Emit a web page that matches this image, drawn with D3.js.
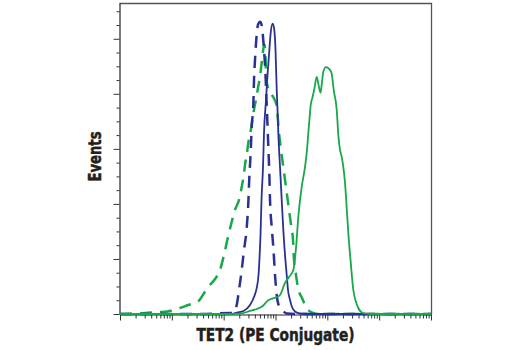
<!DOCTYPE html>
<html><head><meta charset="utf-8">
<script src="https://cdn.jsdelivr.net/npm/d3@7"></script>
<style>html,body{margin:0;padding:0;background:#fff;} svg{display:block}</style>
</head><body><svg id="c" width="520" height="350"></svg>
<script>
// [fluorescence intensity, events]
const blueDashed = [[1,0],[35,0],[132.6,1.8],[151.4,1.8],[178.5,16.4],[197.7,43.6],[222.9,80],[246.9,116.4],[278.3,156.4],[298.8,201.8],[312.3,247.3],[332.4,294.5],[347.5,340],[373.2,380],[385,425.5],[402.5,461.8],[434,507.3],[459.8,525.5],[502.8,530.9],[525.5,529.1],[561.6,512.7],[600.2,480],[641.7,434.5],[670.8,389],[695.1,352.7],[726.6,303.6],[759.7,256.3],[783.7,207.3],[845.3,158.2],[915.4,116.4],[978.6,70.9],[1055.4,34.5],[1168.5,14.5],[1395.7,5.5],[1668,0.9],[2971,0],[1e6,0]];
const blueSolid = [[1,0],[85,0],[106.1,0.9],[144.8,0],[180.9,2.7],[241.4,5.5],[322.3,16.4],[385,30.9],[434,47.3],[470.1,70.9],[491.5,101.8],[513.9,143.6],[537.2,207.3],[574.1,267.3],[600.2,329.1],[656,389],[701.3,434.5],[749.6,470.9],[801.3,507.3],[875.8,527.3],[936,520],[1000.5,480],[1055.4,407.3],[1093.7,370.9],[1133.2,329.1],[1221.8,267.3],[1317.9,207.3],[1414.9,152.7],[1525.8,107.3],[1645.8,70.9],[1743.6,43.6],[1905.5,25.5],[2082.5,12.7],[2379.6,4.5],[2971,0.9],[4634,0],[1e6,0]];
const greenDashed = [[1,0],[2.43,0.9],[3.79,2.7],[5.91,3.6],[8.07,4.5],[12.6,9.1],[20.5,16.4],[32,22.7],[49.9,49.1],[68.1,63.6],[85,80],[101.5,107.3],[121.3,140],[142.9,167.3],[165.5,189.1],[197.7,207.3],[222.9,230.9],[241.4,249.1],[258.1,270.9],[282,292.7],[298.8,310.9],[329.5,330.9],[363.4,356.3],[393.6,376.3],[420.7,389],[459.8,410.9],[502.8,430.9],[549.3,461.8],[587.1,483.6],[613.8,489],[641.7,470.9],[656,430.9],[717,410.9],[875.8,396.3],[1045.9,380],[1168.5,329.1],[1277.4,298.2],[1395.7,270.9],[1525.8,243.6],[1668.2,216.4],[1822.7,189.1],[1992.5,161.8],[2177,134.5],[2276.4,98.2],[2488.3,70.9],[2719.2,47.3],[3247.7,29.1],[3879.3,12.7],[4844,3.6],[6610,0],[1e6,0]];
const greenSolid = [[1,0],[132.6,0],[206.7,0.5],[322.3,5.5],[434,9.1],[549.3,13.6],[717,24.5],[895.4,28.5],[1069.6,30.9],[1221.8,34.5],[1525.8,56.4],[1822.7,67.3],[2206.3,80],[2488.3,120],[2755.7,176.4],[3204.6,230.9],[3710.6,267.3],[4055.4,298.2],[4296.5,329.1],[4634,365.5],[4780,380],[5224,395.1],[5656,410.9],[6240,430.9],[6760,416.3],[7386,401.8],[7897,421.8],[8366,440],[9432,448.5],[10920,444.9],[12150,436.4],[13047,413.2],[13761,398.1],[14386,389],[15171,370.9],[16290,325.4],[17565,298.2],[18948,285.4],[20074,270.9],[21940,238.2],[23450,198.2],[25400,147.3],[28010,98.2],[31715,43.6],[35760,21.8],[39610,10.9],[48800,1.8],[66600,0],[1e6,0]];

const xDecades = [1,10,100,1000,10000,100000,1000000];
const xMultipliers = [2,3,4,5,6,7,8,9];
const yMajorTicks = [0,100,200,300,400,500];
const yMinorTicks = [25,50,75,125,150,175,225,250,275,325,350,375,425,450,475,525,550];
const xTitle = "TET2 (PE Conjugate)";
const yTitle = "Events";

const blue = "#2B3192", green = "#17A84A", ink = "#231F20";
const svg = d3.select("#c");
const x = d3.scaleLog().domain([1,1e6]).range([120,431]);
const y = d3.scaleLinear().domain([0,565]).range([314,3]);

const xMinor = [];
xDecades.slice(0,-1).forEach(d => xMultipliers.forEach(m => xMinor.push(d*m)));

// frame (top/right)
svg.append("path").attr("d", `M119.5,3.5H431.5V314.5`).attr("fill","none").attr("stroke","#555").attr("stroke-width",1.3);

// axes
svg.append("g").attr("transform","translate(0,314.5)")
  .call(d3.axisBottom(x).tickValues(xMinor).tickSize(4).tickFormat("").tickSizeOuter(0));
svg.append("g").attr("transform","translate(0,314.5)")
  .call(d3.axisBottom(x).tickValues(xDecades).tickSize(6).tickFormat("").tickSizeOuter(0))
  .select(".domain").remove();
svg.append("g").attr("transform","translate(119.5,0)")
  .call(d3.axisLeft(y).tickValues(yMinorTicks).tickSize(3).tickFormat("").tickSizeOuter(0));
svg.append("g").attr("transform","translate(119.5,0)")
  .call(d3.axisLeft(y).tickValues(yMajorTicks).tickSize(6).tickFormat("").tickSizeOuter(0))
  .select(".domain").remove();
svg.selectAll(".domain").attr("stroke","#222").attr("stroke-width",1.2);
svg.selectAll(".tick line").attr("stroke","#333").attr("stroke-width",1);

const line = d3.line().x(d => x(d[0])).y(d => y(d[1])).curve(d3.curveMonotoneX);
function draw(data, color, dashed){
  svg.append("path").datum(data).attr("d", line).attr("fill","none")
    .attr("stroke", color).attr("stroke-width", dashed ? 2.5 : 1.8)
    .attr("stroke-dasharray", dashed ? "12,8" : null)
    .attr("stroke-linejoin","round");
}
draw(greenDashed, green, true);
draw(blueDashed, blue, true);
draw(blueSolid, blue, false);
draw(greenSolid, green, false);

const font = "'Liberation Sans Narrow','DejaVu Sans Condensed','Arial Narrow',Arial,sans-serif";
svg.append("text").attr("x",275.5).attr("y",341).attr("text-anchor","middle")
  .attr("font-family",font).attr("font-weight","bold").attr("font-size",18).attr("fill",ink)
  .attr("stroke",ink).attr("stroke-width",0.5)
  .attr("textLength",158).attr("lengthAdjust","spacingAndGlyphs").text(xTitle);
svg.append("text").attr("transform","translate(101,156.5) rotate(-90)").attr("text-anchor","middle")
  .attr("font-family",font).attr("font-weight","bold").attr("font-size",18).attr("fill",ink)
  .attr("stroke",ink).attr("stroke-width",0.5)
  .attr("textLength",50).attr("lengthAdjust","spacingAndGlyphs").text(yTitle);
</script></body></html>
